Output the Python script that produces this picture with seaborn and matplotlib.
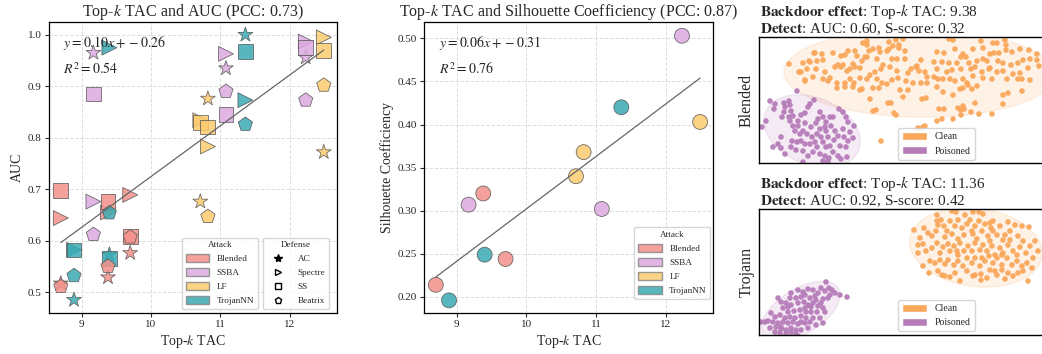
import numpy as np
import pandas as pd
import matplotlib
matplotlib.use('agg')
import matplotlib.pyplot as plt
from matplotlib.patches import Patch, Ellipse
from matplotlib.lines import Line2D
import seaborn as sns

# ---- data -------------------------------------------------------------
attack_names = ['Blended', 'SSBA', 'LF', 'TrojanNN']
defense_names = ['AC', 'Spectre', 'SS', 'Beatrix']

# 12 models (3 per attack)
model_attack = ['Blended'] * 3 + ['SSBA'] * 3 + ['LF'] * 3 + ['TrojanNN'] * 3
model_tac = [8.70, 9.38, 9.70, 9.17, 11.08, 12.23, 10.71, 10.82, 12.49, 8.89, 9.40, 11.36]

auc_ac = [0.517, 0.529, 0.576, 0.965, 0.935, 0.956, 0.676, 0.876, 0.772, 0.485, 0.573, 1.000]
auc_spectre = [0.644, 0.655, 0.689, 0.676, 0.963, 0.987, 0.834, 0.783, 0.995, 0.582, 0.975, 0.873]
auc_ss = [0.697, 0.676, 0.608, 0.885, 0.845, 0.976, 0.829, 0.821, 0.970, 0.582, 0.565, 0.968]
auc_beatrix = [0.511, 0.550, 0.607, 0.612, 0.890, 0.873, np.nan, 0.647, 0.902, 0.532, 0.654, 0.826]

silhouette = [0.214, 0.320, 0.244, 0.307, 0.302, 0.503, 0.340, 0.368, 0.403, 0.196, 0.249, 0.420]

# embedding points
blended_clean = [
    (863, 43), (867, 41), (867, 45), (889, 42), (896, 40), (903, 39), (949, 39), (953, 40), (981, 41),
    (993, 43), (997, 43), (1005, 40), (1006, 45), (899, 45),
    (814, 53), (822, 54), (833, 53), (841, 56), (845, 55), (848, 51), (855, 51), (857, 56), (865, 57),
    (869, 51), (873, 49), (879, 48), (880, 52), (887, 51), (889, 49), (893, 46), (899, 48), (905, 51),
    (937, 52), (944, 53), (955, 49), (963, 54), (973, 49), (983, 48), (990, 54), (994, 53), (999, 53),
    (1006, 50), (1012, 52), (1020, 49), (1029, 50), (1037, 54),
    (803, 63), (809, 61), (817, 61), (823, 60), (838, 65), (843, 65), (853, 64), (862, 61), (867, 57),
    (877, 59), (883, 65), (892, 59), (897, 59), (905, 59), (917, 66), (921, 60), (934, 62), (942, 62),
    (949, 63), (957, 63), (961, 57), (966, 57), (969, 63), (977, 61), (983, 59), (987, 61), (990, 68),
    (998, 61), (1003, 63), (1011, 65), (1018, 63), (1023, 60), (1030, 59), (1037, 60), (1039, 66),
    (799, 72), (807, 69), (816, 69), (825, 72), (830, 78), (835, 67), (841, 67), (847, 71), (850, 69),
    (855, 67), (860, 68), (870, 75), (875, 72), (881, 69), (890, 67), (897, 71), (908, 73), (911, 69),
    (916, 67), (919, 71), (925, 72), (927, 77), (937, 69), (947, 72), (952, 70), (961, 69), (971, 69),
    (975, 67), (982, 72), (989, 69), (997, 72), (1003, 71), (1013, 74), (1020, 73), (1028, 68),
    (805, 81), (813, 77), (823, 79), (828, 81), (837, 83), (845, 83), (850, 79), (854, 83), (860, 78),
    (867, 79), (877, 79), (882, 83), (892, 80), (898, 78), (906, 81), (913, 83), (921, 83), (927, 83),
    (934, 77), (938, 79), (943, 79), (950, 79), (955, 81), (963, 79), (967, 83), (973, 76), (977, 86),
    (983, 78), (992, 79), (1007, 79), (1018, 79), (1022, 79), (1030, 80),
    (837, 88), (845, 87), (853, 87), (860, 90), (862, 89), (873, 88), (879, 88), (887, 84), (900, 90),
    (903, 97), (908, 90), (922, 99), (926, 98), (937, 87), (943, 92), (953, 95), (960, 89), (963, 88),
    (968, 85), (972, 89), (1003, 95), (1008, 93), (1022, 91), (870, 99),
    (873, 111), (876, 110), (888, 103), (891, 103), (894, 113), (896, 115), (939, 109), (944, 109),
    (958, 108), (961, 110), (963, 106), (964, 109), (961, 115), (971, 112), (979, 114), (992, 114),
    (975, 103), (1003, 104), (953, 119), (937, 121), (942, 119), (925, 126), (918, 128),
    (789, 64), (801, 72), (805, 80), (810, 62), (815, 53), (881, 141), (923, 127),
]
blended_poisoned = [
    (797, 91), (770, 101), (775, 104), (774, 109), (784, 103), (785, 107), (789, 101), (790, 105),
    (791, 111), (784, 112), (782, 117), (789, 117), (793, 116), (801, 115), (805, 113), (808, 107),
    (810, 104), (814, 100), (820, 112), (818, 119), (816, 123), (823, 117), (826, 122), (830, 117),
    (833, 117), (839, 109), (843, 112), (846, 117), (848, 122), (854, 126), (853, 138), (848, 141),
    (846, 147), (843, 129), (838, 136), (835, 131), (834, 140), (830, 146), (826, 147), (823, 142),
    (821, 137), (817, 134), (812, 137), (807, 134), (803, 131), (798, 126), (793, 126), (795, 131),
    (800, 134), (797, 142), (792, 141), (791, 147), (796, 150), (803, 151), (808, 156), (813, 152),
    (817, 147), (820, 154), (825, 156), (829, 158), (833, 152), (838, 156), (841, 159), (847, 157),
    (778, 144), (773, 147), (781, 148), (785, 154), (781, 137), (762, 127), (766, 121), (805, 144),
    (810, 144), (815, 142), (801, 141), (825, 127), (828, 137), (840, 146), (844, 137), (850, 132),
    (826, 131), (831, 126), (820, 129), (811, 127), (805, 123), (790, 121), (798, 121), (823, 161),
    (828, 161), (803, 162),
]
trojan_clean = [
    (937, 215), (952, 211), (956, 212), (973, 212), (979, 212), (983, 214), (914, 230), (920, 238),
    (924, 228), (928, 233), (932, 236), (936, 231), (938, 225), (941, 220), (944, 226), (947, 231),
    (950, 221), (952, 234), (955, 226), (958, 220), (958, 239), (962, 228), (964, 235), (967, 224),
    (970, 220), (972, 231), (975, 226), (977, 239), (979, 221), (982, 231), (985, 224), (988, 236),
    (991, 228), (993, 221), (997, 235), (1000, 226), (1003, 240), (1008, 222), (1010, 231), (1015, 225),
    (1018, 236), (1022, 226), (1023, 241), (1029, 227), (1030, 246), (1035, 241), (1038, 251),
    (918, 245), (923, 244), (926, 251), (932, 248), (937, 243), (940, 253), (943, 247), (948, 244),
    (950, 251), (954, 246), (957, 251), (960, 243), (964, 251), (968, 246), (972, 251), (975, 243),
    (980, 250), (983, 245), (987, 251), (992, 246), (995, 255), (1000, 248), (1003, 253), (1008, 245),
    (1013, 251), (1017, 255), (1020, 247), (1026, 253), (1033, 258),
    (918, 253), (930, 261), (935, 263), (940, 260), (945, 264), (948, 260), (954, 265), (958, 261),
    (963, 266), (967, 258), (972, 263), (975, 258), (980, 266), (985, 261), (989, 256), (993, 263),
    (997, 258), (1002, 265), (1007, 258), (1012, 265), (1017, 261), (1022, 266), (1027, 263),
    (923, 266), (938, 271), (942, 275), (945, 276), (950, 277), (955, 273), (960, 281), (967, 271),
    (973, 276), (975, 275), (981, 274), (987, 278), (990, 270), (995, 271), (997, 275), (1002, 270),
    (1005, 279), (1008, 273), (1013, 276), (1018, 273), (1023, 271), (1028, 281), (1032, 268),
    (929, 273), (981, 280), (937, 221), (973, 234), (990, 241), (958, 255), (945, 237), (1002, 255),
    (982, 258), (1010, 240), (990, 223), (965, 215), (993, 231), (1005, 235),
]
trojan_poisoned = [
    (826, 282), (829, 288), (832, 290), (835, 293), (840, 295), (847, 297), (830, 295), (825, 291),
    (821, 288), (813, 290), (808, 289), (803, 292), (798, 290), (791, 293), (790, 298), (796, 298),
    (801, 297), (805, 295), (810, 298), (815, 296), (818, 293), (823, 299), (828, 298), (778, 298),
    (781, 302), (786, 303), (791, 305), (798, 303), (804, 302), (808, 305), (813, 303), (818, 306),
    (823, 308), (783, 308), (788, 312), (794, 311), (800, 310), (805, 308), (811, 312), (817, 312),
    (825, 312), (771, 313), (775, 317), (780, 315), (785, 318), (790, 317), (795, 318), (801, 316),
    (806, 318), (813, 318), (820, 318), (768, 321), (773, 322), (778, 323), (783, 322), (788, 323),
    (793, 322), (798, 324), (805, 323), (810, 322), (816, 325), (823, 323), (765, 322), (770, 328),
    (776, 327), (781, 329), (786, 330), (791, 328), (796, 330), (801, 330), (808, 328), (775, 332),
    (780, 333), (786, 334), (791, 332), (796, 334), (761, 322), (798, 336), (793, 337), (781, 327),
    (788, 307), (811, 307), (801, 322), (806, 312), (816, 300), (821, 303),
]

# ---- style ------------------------------------------------------------
sns.set_theme(style='ticks')
plt.rcParams['font.family'] = ['Liberation Serif', 'DejaVu Serif']
plt.rcParams['mathtext.fontset'] = 'stix'

palette = {'Blended': '#F4918A', 'SSBA': '#DDA9E0', 'LF': '#FCCB6E', 'TrojanNN': '#3BAAB3'}
markers = {'AC': '*', 'Spectre': '>', 'SS': 's', 'Beatrix': 'p'}
sizes = {'AC': 125, 'Spectre': 115, 'SS': 115, 'Beatrix': 115}
clean_col, pois_col = '#F9A75B', '#B67CB9'

df = pd.concat([
    pd.DataFrame({'attack': model_attack, 'tac': model_tac, 'auc': vals, 'defense': d})
    for d, vals in zip(defense_names, [auc_ac, auc_spectre, auc_ss, auc_beatrix])
]).dropna()
df2 = pd.DataFrame({'attack': model_attack, 'tac': model_tac, 'sil': silhouette})

fig = plt.figure(figsize=(10.42, 3.54), dpi=100)
ax1 = fig.add_axes([0.0467, 0.115, 0.2767, 0.823])
ax2 = fig.add_axes([0.4072, 0.115, 0.2774, 0.823])
ax3 = fig.add_axes([0.7284, 0.5387, 0.2754, 0.3559])
ax4 = fig.add_axes([0.7284, 0.0537, 0.2754, 0.3551])


def style_axis(ax):
    ax.grid(True, linestyle='--', color='#dddddd', linewidth=0.7)
    ax.set_axisbelow(True)
    for s in ax.spines.values():
        s.set_color('black')
        s.set_linewidth(0.9)
    ax.tick_params(labelsize=8, length=3, width=0.8, direction='out', pad=2)


# ---- panel 1 ----------------------------------------------------------
for d in defense_names:
    sub = df[df.defense == d]
    sns.scatterplot(data=sub, x='tac', y='auc', hue='attack', palette=palette, marker=markers[d],
                    s=sizes[d], edgecolor='#555555', linewidth=0.6, alpha=0.85, legend=False, ax=ax1)
sns.regplot(data=df, x='tac', y='auc', scatter=False, ci=None, truncate=True,
            line_kws=dict(color='#666666', lw=0.9), ax=ax1)
ax1.set_xlim(8.525, 12.68)
ax1.set_ylim(0.459, 1.025)
ax1.set_xticks([9, 10, 11, 12])
ax1.set_yticks([0.5, 0.6, 0.7, 0.8, 0.9, 1.0])
ax1.set_xlabel('Top-$k$ TAC', fontsize=10, labelpad=3)
ax1.set_ylabel('AUC', fontsize=10, labelpad=3)
ax1.set_title('Top-$k$ TAC and AUC (PCC: 0.73)', fontsize=11.5, pad=4)
ax1.text(0.05, 0.927, r'$y = 0.10x + -0.26$', transform=ax1.transAxes, fontsize=10, va='center')
ax1.text(0.05, 0.838, r'$R^2 = 0.54$', transform=ax1.transAxes, fontsize=10, va='center')
style_axis(ax1)

attack_handles = [Patch(facecolor=palette[a], edgecolor='#888888', alpha=0.85, label=a) for a in attack_names]
defense_handles = [Line2D([], [], linestyle='none', marker=markers[d], color='black',
                          markerfacecolor='black' if d == 'AC' else 'none', markersize=5 if d != 'AC' else 6,
                          markeredgewidth=1.0, label=d) for d in defense_names]
leg_kw = dict(fontsize=6.6, title_fontsize=6.6, frameon=True, edgecolor='#cccccc', fancybox=True,
              handlelength=2.6, handleheight=0.9, labelspacing=0.55, borderpad=0.4)
lg1 = ax1.legend(handles=attack_handles, title='Attack', loc='lower left',
                 bbox_to_anchor=(0.462, 0.015), borderaxespad=0, **leg_kw)
ax1.add_artist(lg1)
ax1.legend(handles=defense_handles, title='Defense', loc='lower left',
           bbox_to_anchor=(0.742, 0.015), borderaxespad=0, **leg_kw)

# ---- panel 2 ----------------------------------------------------------
sns.scatterplot(data=df2, x='tac', y='sil', hue='attack', palette=palette, s=115,
                edgecolor='#555555', linewidth=0.6, alpha=0.85, legend=False, ax=ax2)
sns.regplot(data=df2, x='tac', y='sil', scatter=False, ci=None, truncate=True,
            line_kws=dict(color='#666666', lw=0.9), ax=ax2)
ax2.set_xlim(8.535, 12.68)
ax2.set_ylim(0.181, 0.519)
ax2.set_xticks([9, 10, 11, 12])
ax2.set_yticks([0.20, 0.25, 0.30, 0.35, 0.40, 0.45, 0.50])
ax2.set_yticklabels(['0.20', '0.25', '0.30', '0.35', '0.40', '0.45', '0.50'])
ax2.set_xlabel('Top-$k$ TAC', fontsize=10, labelpad=3)
ax2.set_ylabel('Silhouette Coefficiency', fontsize=10, labelpad=3)
ax2.set_title('Top-$k$ TAC and Silhouette Coefficiency (PCC: 0.87)', fontsize=11.5, pad=4)
ax2.text(0.052, 0.927, r'$y = 0.06x + -0.31$', transform=ax2.transAxes, fontsize=10, va='center')
ax2.text(0.052, 0.838, r'$R^2 = 0.76$', transform=ax2.transAxes, fontsize=10, va='center')
style_axis(ax2)
ax2.legend(handles=attack_handles, title='Attack', loc='lower right',
           bbox_to_anchor=(0.99, 0.05), borderaxespad=0, **leg_kw)


# ---- feature-space panels ----------------------------------------------
def cov_ellipse(ax, pts, color, n_std=2.1):
    pts = np.asarray(pts, float)
    mean = pts.mean(axis=0)
    vals, vecs = np.linalg.eigh(np.cov(pts.T))
    angle = np.degrees(np.arctan2(vecs[1, 1], vecs[0, 1]))
    w, h = 2 * n_std * np.sqrt(vals[1]), 2 * n_std * np.sqrt(vals[0])
    ax.add_patch(Ellipse(mean, w, h, angle=angle, facecolor=color, edgecolor=color,
                         alpha=0.15, lw=1.0, zorder=1))


def feature_panel(ax, clean, poisoned, ylim, name, tac_txt, det_txt):
    c = np.asarray(clean, float)
    p = np.asarray(poisoned, float)
    cov_ellipse(ax, c, clean_col)
    cov_ellipse(ax, p, pois_col)
    sns.scatterplot(x=c[:, 0], y=c[:, 1], color=clean_col, s=16, edgecolor='none', alpha=0.95, ax=ax, zorder=2)
    sns.scatterplot(x=p[:, 0], y=p[:, 1], color=pois_col, s=16, edgecolor='none', alpha=0.95, ax=ax, zorder=2)
    ax.set_xlim(759, 1046)
    ax.set_ylim(*ylim)
    ax.set_xticks([])
    ax.set_yticks([])
    for s in ax.spines.values():
        s.set_color('black')
        s.set_linewidth(1.0)
    ax.set_ylabel(name, fontsize=11.5, labelpad=3)
    ax.text(0.005, 1.17, r'$\mathbf{Backdoor\ effect}$: Top-$k$ TAC: ' + tac_txt,
            transform=ax.transAxes, fontsize=11, va='baseline', ha='left')
    ax.text(0.005, 1.036, r'$\mathbf{Detect}$: ' + det_txt,
            transform=ax.transAxes, fontsize=11, va='baseline', ha='left')
    hs = [Patch(facecolor=clean_col, label='Clean'), Patch(facecolor=pois_col, label='Poisoned')]
    ax.legend(handles=hs, loc='lower left', bbox_to_anchor=(0.484, 0.03), borderaxespad=0,
              fontsize=7, frameon=True, edgecolor='#cccccc', fancybox=True,
              handlelength=2.6, handleheight=0.9, labelspacing=0.5, borderpad=0.4)


feature_panel(ax3, blended_clean, blended_poisoned, (163.3, 37.3), 'Blended', '9.38',
              'AUC: 0.60, S-score: 0.32')
feature_panel(ax4, trojan_clean, trojan_poisoned, (335.0, 209.3), 'Trojann', '11.36',
              'AUC: 0.92, S-score: 0.42')

fig.savefig('out.png', dpi=100)
